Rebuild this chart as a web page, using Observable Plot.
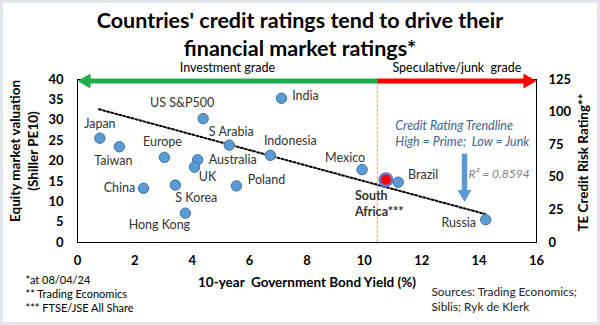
<!DOCTYPE html>
<html><head><meta charset="utf-8">
<script src="https://cdn.jsdelivr.net/npm/d3@7"></script>
<script src="https://cdn.jsdelivr.net/npm/@observablehq/plot@0.6"></script>
<style>
body{margin:0;background:#fff;}
#wrap{position:relative;width:600px;height:325px;background:#fff;overflow:hidden;font-family:Lato,"Open Sans",sans-serif;}
#title{position:absolute;top:6px;left:0;width:600px;text-align:center;font-weight:bold;font-size:21.5px;line-height:28px;color:#000;}
#chart{position:absolute;top:60px;left:0;}
#border{position:absolute;left:0;top:0;right:0;bottom:0;border:3px solid #e3e7eb;pointer-events:none;}
</style>
</head><body>
<div id="wrap">
<div id="title">Countries' credit ratings tend to drive their<br>financial market ratings*</div>
<div id="chart"></div>
<div id="border"></div>
</div>
<script>
// ---- data ----
const countries = ["Japan","Taiwan","Europe","US S&P500","Australia","UK","S Arabia","Indonesia","India","China","S Korea","Poland","Hong Kong","Mexico","South Africa***","Brazil","Russia"];
const bondYield = [0.78,1.46,3.03,4.38,4.19,4.08,5.29,6.72,7.11,2.30,3.41,5.54,3.76,9.92,10.75,11.18,14.23];
const shillerPE = [25.6,23.5,20.9,30.4,20.3,18.5,23.9,21.4,35.4,13.3,14.1,13.9,7.2,17.9,15.4,14.8,5.6];
const trendX = [0.75, 14.2];
const trendY = [32.7, 7.0];
const junkThreshold = 10.45;
const xTicks = [0,2,4,6,8,10,12,14,16];
const leftTicks = [0,5,10,15,20,25,30,35,40];
const rightTicks = [0,25,50,75,100,125];
const rightMax = 125, leftMax = 40;
const r2Text = "R² = 0.8594";
const footnotes = ["*at 08/04/24","** Trading Economics","*** FTSE/JSE All Share"];
const sources = ["Sources: Trading Economics;","Siblis; Ryk de Klerk"];

// ---- build ----
const rows = countries.map((c,i)=>({country:c, x:bondYield[i], y:shillerPE[i]}));
const trend = trendX.map((x,i)=>({x, y:trendY[i]}));
const labelOffset = {
  "Japan":[0,-14], "Taiwan":[-6,14], "Europe":[-2,-15], "US S&P500":[-21,-16],
  "Australia":[35,0], "UK":[13,10], "S Arabia":[2,-13], "Indonesia":[20,-14],
  "India":[24,-2], "China":[-24,0], "S Korea":[21,13], "Poland":[30,-6],
  "Hong Kong":[-26,12], "Mexico":[-17,-12], "Brazil":[25,-7], "Russia":[-27,3]
};
const sa = rows.filter(d=>d.country==="South Africa***");
const others = rows.filter(d=>d.country!=="South Africa***");
const labelMarks = others.map(d=>Plot.text([d],{x:"x",y:"y",text:"country",dx:labelOffset[d.country][0],dy:labelOffset[d.country][1],fill:"#333",fontSize:12.5}));

const bar = [{x1:0.4,x2:junkThreshold,c:"#1fae4b"},{x1:junkThreshold,x2:15.6,c:"#ff0000"}];

const chart = Plot.plot({
  width:600, height:265, marginTop:19, marginBottom:83, marginLeft:77, marginRight:64,
  style:{fontFamily:"Lato, 'Open Sans', sans-serif", fontSize:"12.5px", background:"transparent", color:"#000", overflow:"visible"},
  x:{domain:[0,16]}, y:{domain:[0,leftMax]},
  marks:[
    Plot.ruleX([junkThreshold],{y1:0,y2:leftMax,stroke:"#f4a36b",strokeWidth:1,strokeDasharray:"3,1.5"}),
    Plot.frame({stroke:"#000",strokeWidth:1}),
    Plot.axisX({ticks:xTicks,tickSize:0,tickPadding:13,fontWeight:"bold",fontSize:13,label:null}),
    Plot.axisY({ticks:leftTicks,tickSize:0,tickPadding:14,fontWeight:"bold",fontSize:13,label:null}),
    Plot.axisY({anchor:"right",ticks:rightTicks.map(v=>v*leftMax/rightMax),tickFormat:d=>Math.round(d*rightMax/leftMax),tickSize:0,tickPadding:12,fontWeight:"bold",fontSize:13,label:null}),
    Plot.line(trend,{x:"x",y:"y",stroke:"#000",strokeWidth:2,strokeDasharray:"2,2.2"}),
    Plot.dot(others,{x:"x",y:"y",r:5.2,fill:"#5b9bd5",stroke:"#41719c",strokeWidth:1}),
    Plot.dot(sa,{x:"x",y:"y",r:6.3,fill:"#ff0000",stroke:"#7070c8",strokeWidth:2.5}),
    ...labelMarks,
    Plot.text(sa,{x:"x",y:"y",text:()=>"South\nAfrica***",textAnchor:"start",dx:-31,dy:23,lineHeight:1.3,fontWeight:"bold",fill:"#333",fontSize:12.5}),
    // top grade bar
    Plot.link(bar,{x1:"x1",x2:"x2",y1:leftMax,y2:leftMax,stroke:"c",strokeWidth:5,dy:1.5}),
    Plot.dot([0],{x:d=>d,y:leftMax,symbol:"triangle",r:5.6,fill:"#1fae4b",rotate:-90,dx:8.7,dy:1.5}),
    Plot.dot([16],{x:d=>d,y:leftMax,symbol:"triangle",r:5.6,fill:"#ff0000",rotate:90,dx:-8.7,dy:1.5}),
    Plot.text(["Investment grade"],{x:junkThreshold/2,y:leftMax,dy:-12,fontSize:12.5,fill:"#000"}),
    Plot.text(["Speculative/junk  grade"],{x:(junkThreshold+16)/2,y:leftMax,dy:-12,fontSize:12.5,fill:"#000"}),
    // annotation
    Plot.text(["Credit Rating Trendline\nHigh = Prime;  Low = Junk"],{x:11.08,y:27,textAnchor:"start",lineHeight:1.3,fontStyle:"italic",fontSize:12.5,fill:"#3e6590"}),
    Plot.link([0],{x1:13.49,x2:13.49,y1:21.8,y2:12.6,stroke:"#5b9bd5",strokeWidth:5.5}),
    Plot.dot([0],{x:13.49,y:11.9,symbol:"triangle",r:5.2,fill:"#5b9bd5",rotate:180}),
    Plot.text([r2Text],{x:13.63,y:16.7,textAnchor:"start",fontStyle:"italic",fontSize:12,fill:"#7f7f7f"}),
    // axis titles
    Plot.text(["10-year  Government Bond Yield (%)"],{frameAnchor:"bottom",dy:44,fontWeight:"bold",fontSize:13.5,fill:"#000"}),
    Plot.text(["Equity market valuation"],{frameAnchor:"left",textAnchor:"middle",rotate:-90,dx:-62,dy:-10,fontWeight:"bold",fontSize:13.5,fill:"#000"}),
    Plot.text(["(Shiller PE10)"],{frameAnchor:"left",textAnchor:"middle",rotate:-90,dx:-44,dy:-10,fontWeight:"bold",fontSize:13.5,fill:"#000"}),
    Plot.text(["TE Credit Risk Rating**"],{frameAnchor:"right",textAnchor:"middle",rotate:-90,dx:47,dy:1.5,fontWeight:"bold",fontSize:13.5,fill:"#000"}),
    // notes
    Plot.text([footnotes.join("\n")],{frameAnchor:"bottom-left",dx:-52,dy:31,textAnchor:"start",lineAnchor:"top",lineHeight:1.3,fontSize:11,fill:"#000"}),
    Plot.text([sources.join("\n")],{frameAnchor:"bottom-right",dx:-105,dy:43,textAnchor:"start",lineAnchor:"top",lineHeight:1.25,fontSize:11.8,fill:"#222"})
  ]
});
document.getElementById("chart").append(chart);
</script>
</body></html>
